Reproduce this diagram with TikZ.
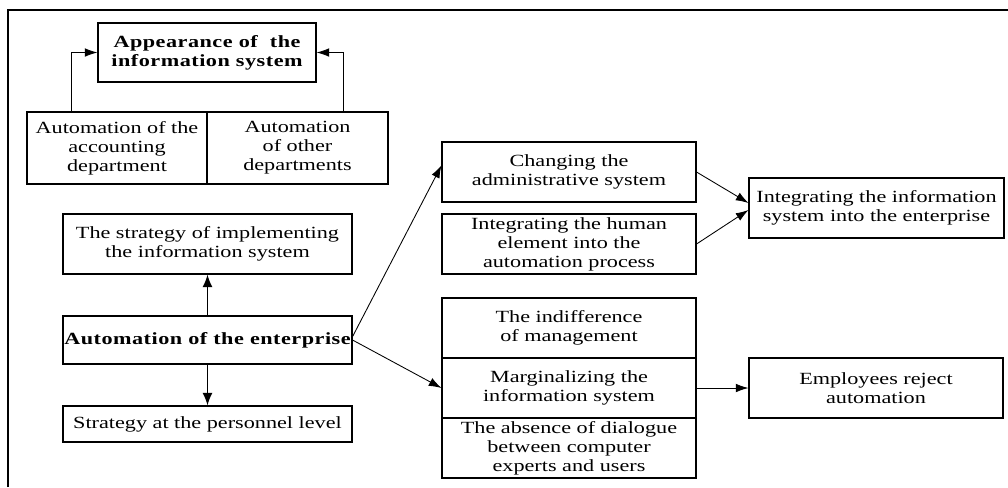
\documentclass[tikz,border=0pt]{standalone}
\usepackage{fontspec}
\setmainfont{Liberation Serif}[FakeStretch=1.3]
\usetikzlibrary{arrows.meta,calc}
\begin{document}
\begin{tikzpicture}[x=0.75pt,y=-0.75pt,
  box/.style={draw,line width=0.8pt,inner sep=0pt,align=center,
    font=\fontsize{12.8}{14.3}\selectfont},
  titlebox/.style={box,font=\fontsize{12.8}{14.3}\selectfont\bfseries\addfontfeatures{LetterSpace=3}},
  arr/.style={-{Latex[length=9.5pt,width=6.5pt]},line width=0.65pt},
  varr/.style={-{Latex[length=9.5pt,width=7.5pt]},line width=1pt}]
\useasboundingbox (0,0) rectangle (1008,487);
% outer frame (top and left edges only)
\draw[line width=1.6pt] (7.7,487) -- (7.7,10.3) -- (1008,10.3);

% top group
\node[titlebox,minimum width=163.5pt,minimum height=44.25pt] (appear) at (207,52.5)
  {Appearance of \ the\\information system};
\node[box,minimum width=135pt,minimum height=54pt] (acct) at (117,148)
  {Automation of the\\accounting\\department};
\node[box,minimum width=135.75pt,minimum height=54pt] (other) at (297.5,148)
  {Automation\\of other\\departments};

% left column
\node[box,minimum width=216.75pt,minimum height=45pt] (strat) at (207.5,244)
  {The strategy of implementing\\the information system};
\node[titlebox,minimum width=216.75pt,minimum height=36pt] (auto) at (207.5,340)
  {Automation of the enterprise};
\node[box,minimum width=216.75pt,minimum height=27pt] (pers) at (207.5,424)
  {Strategy at the personnel level};

% middle column
\node[box,minimum width=190.5pt,minimum height=45pt] (chg) at (569,172)
  {Changing the\\administrative system};
\node[box,minimum width=190.5pt,minimum height=45pt] (human) at (569,244)
  {Integrating the human\\element into the\\automation process};
\node[box,minimum width=190.5pt,minimum height=45pt] (indiff) at (569,328)
  {The indifference\\of management};
\node[box,minimum width=190.5pt,minimum height=45pt] (marg) at (569,388)
  {Marginalizing the\\information system};
\node[box,minimum width=190.5pt,minimum height=45pt] (absence) at (569,448)
  {The absence of dialogue\\between computer\\experts and users};

% right column
\node[box,minimum width=191.25pt,minimum height=45pt] (integ) at (876.5,208)
  {Integrating the information\\system into the enterprise};
\node[box,minimum width=190.5pt,minimum height=45pt] (emp) at (876,388)
  {Employees reject\\automation};

% connectors
\draw[arr] ($(acct.north west)!0.25!(acct.north east)$) |- (appear.west);
\draw[arr] ($(other.north west)!0.75!(other.north east)$) |- (appear.east);
\draw[varr] (auto.north) -- (strat.south);
\draw[varr] (auto.south) -- (pers.north);
\draw[arr] ([yshift=2.5pt]auto.east) -- ([yshift=5pt]chg.west);
\draw[arr] (auto.east) -- (marg.west);
\draw[arr] (chg.east) -- ([yshift=3.75pt]integ.west);
\draw[arr] (human.east) -- ([yshift=-1.5pt]integ.west);
\draw[arr] (marg.east) -- (emp.west);
\end{tikzpicture}
\end{document}
